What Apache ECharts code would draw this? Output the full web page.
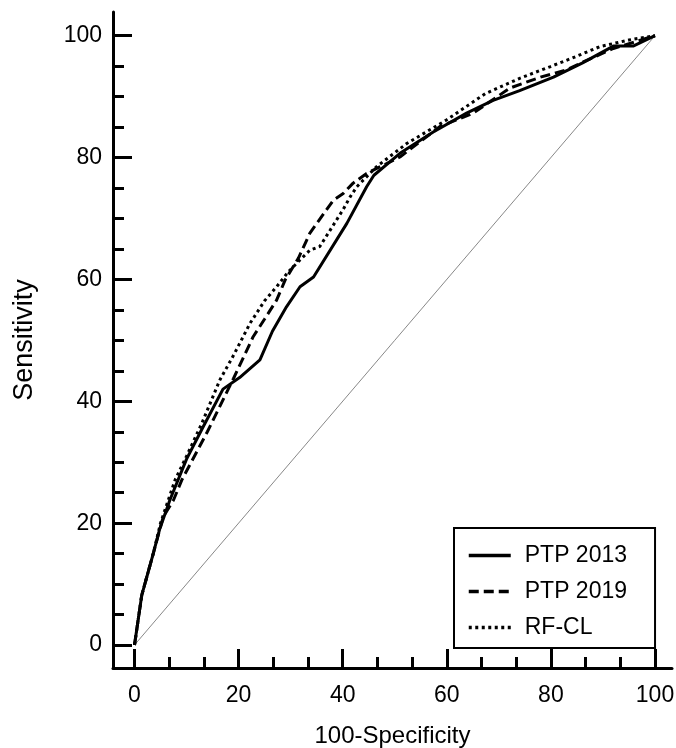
<!DOCTYPE html>
<html>
<head>
<meta charset="utf-8">
<script src="https://cdn.jsdelivr.net/npm/echarts@6/dist/echarts.min.js"></script>
<style>
  html, body { margin: 0; padding: 0; background: #fff; }
  #chart { width: 676px; height: 748px; }
</style>
</head>
<body>
<div id="chart"></div>
<script>
// ---- data ----
const seriesNames = ['PTP 2013', 'PTP 2019', 'RF-CL'];

const ptp2013X = [0, 1.4, 3.6, 4.8, 6.8, 10, 13, 17, 20.2, 24.1, 26.5, 29.2, 31.8, 34.4, 40.8, 44.6, 46, 51, 57.4, 63.8, 68.9, 74, 80.5, 86, 92, 95.8, 100];
const ptp2013Y = [0, 8.2, 15, 18.9, 23.8, 30.5, 35.5, 42, 43.9, 46.8, 51.5, 55.5, 58.8, 60.4, 69.2, 75.2, 77.1, 80.7, 84.2, 87.3, 89.4, 91, 93.2, 95.5, 98.3, 98.3, 100];

const ptp2019X = [0, 1.4, 3.6, 5.5, 7.5, 9.1, 14, 19, 22.8, 25, 27.3, 29, 31.5, 33.7, 38.2, 40.1, 42, 44.6, 51, 58.7, 65.1, 72.1, 78, 83, 87, 92, 100];
const ptp2019Y = [0, 8.2, 15, 21, 23.8, 27.1, 35, 43.7, 50.6, 53.5, 56.6, 60, 63.5, 67.6, 73, 74.1, 75.8, 77.4, 80.1, 85.1, 87.3, 91.4, 93.2, 94.4, 96, 97.9, 100];

const rfclX = [0, 1.4, 3.6, 5, 7.8, 10, 13, 16.4, 19, 22.2, 25, 27.3, 29.5, 31.8, 33.7, 35.6, 37.6, 40.1, 41.4, 42.7, 46.5, 52.3, 60, 67.4, 74, 79.8, 84, 89.4, 95, 100];
const rfclY = [0, 8.2, 15, 20, 27.1, 31, 36.5, 43.5, 47.5, 52.8, 56.5, 58.8, 61.2, 63.2, 64.8, 65.4, 68.1, 71.5, 73.5, 75.2, 78.5, 82.3, 86.2, 90.5, 93, 94.9, 96.3, 98.2, 99.3, 100];

const diagX = [0, 100];
const diagY = [0, 100];

const majorTicks = [0, 20, 40, 60, 80, 100];
const xMinorTicks = [6.667, 13.333, 26.667, 33.333, 46.667, 53.333, 66.667, 73.333, 86.667, 93.333];
const yMinorTicks = [5, 10, 15, 25, 30, 35, 45, 50, 55, 65, 70, 75, 85, 90, 95];

const xTitle = '100-Specificity';
const yTitle = 'Sensitivity';

// ---- helpers ----
function pairs(xs, ys) { return xs.map((x, i) => [x, ys[i]]); }

const FONT = "'Liberation Sans', Arial, sans-serif";
const X_MIN = -4.13, X_MAX = 103.27, Y_MIN = -3.77, Y_MAX = 103.89;

const chart = echarts.init(document.getElementById('chart'), null, { renderer: 'canvas' });

const option = {
  backgroundColor: '#fff',
  animation: false,
  textStyle: { fontFamily: FONT, color: '#000' },
  grid: { left: 113, right: 4, top: 12, bottom: 80, containLabel: false, outerBoundsMode: 'none' },
  legend: {
    data: seriesNames,
    orient: 'vertical',
    left: 454,
    top: 528,
    borderColor: '#000',
    borderWidth: 2,
    padding: [16, 28, 9, 13],
    itemGap: 13,
    itemWidth: 42,
    itemHeight: 14,
    backgroundColor: '#fff',
    itemStyle: { opacity: 0, borderWidth: 0 },
    lineStyle: { width: 3.5 },
    textStyle: { fontFamily: FONT, fontSize: 23, color: '#000', lineHeight: 22, padding: [0, 0, 0, 9] }
  },
  xAxis: [
    {
      type: 'value', min: X_MIN, max: X_MAX, position: 'bottom',
      name: xTitle, nameLocation: 'middle', nameGap: 56,
      nameTextStyle: { fontFamily: FONT, fontSize: 24, color: '#000' },
      axisLine: { show: true, onZero: false, lineStyle: { color: '#000', width: 3 } },
      axisTick: { show: true, inside: true, length: 19, customValues: majorTicks, lineStyle: { color: '#000', width: 3 } },
      axisLabel: { show: true, customValues: majorTicks, margin: 16, fontFamily: FONT, fontSize: 23, color: '#000' },
      splitLine: { show: false }
    },
    {
      type: 'value', min: X_MIN, max: X_MAX, position: 'bottom',
      axisLine: { show: false, onZero: false },
      axisTick: { show: true, inside: true, length: 11, customValues: xMinorTicks, lineStyle: { color: '#000', width: 3 } },
      axisLabel: { show: false },
      splitLine: { show: false }
    }
  ],
  yAxis: [
    {
      type: 'value', min: Y_MIN, max: Y_MAX, position: 'left',
      name: yTitle, nameLocation: 'middle', nameGap: 75, nameRotate: 90,
      nameTextStyle: { fontFamily: FONT, fontSize: 27, color: '#000' },
      axisLine: { show: true, onZero: false, lineStyle: { color: '#000', width: 3 } },
      axisTick: { show: true, inside: true, length: 19, customValues: majorTicks, lineStyle: { color: '#000', width: 3 } },
      axisLabel: { show: true, customValues: majorTicks, margin: 11, fontFamily: FONT, fontSize: 23, color: '#000' },
      splitLine: { show: false }
    },
    {
      type: 'value', min: Y_MIN, max: Y_MAX, position: 'left',
      axisLine: { show: false, onZero: false },
      axisTick: { show: true, inside: true, length: 11, customValues: yMinorTicks, lineStyle: { color: '#000', width: 3 } },
      axisLabel: { show: false },
      splitLine: { show: false }
    }
  ],
  series: [
    {
      name: 'diag', type: 'line', data: pairs(diagX, diagY), symbol: 'none', silent: true,
      lineStyle: { color: '#888', width: 1 }, z: 1
    },
    {
      name: seriesNames[0], type: 'line', data: pairs(ptp2013X, ptp2013Y), symbol: 'none',
      color: '#000', lineStyle: { color: '#000', width: 3, type: 'solid' }, z: 3
    },
    {
      name: seriesNames[1], type: 'line', data: pairs(ptp2019X, ptp2019Y), symbol: 'none',
      color: '#000', lineStyle: { color: '#000', width: 3, type: [10, 5] }, z: 3
    },
    {
      name: seriesNames[2], type: 'line', data: pairs(rfclX, rfclY), symbol: 'none',
      color: '#000', lineStyle: { color: '#000', width: 3, type: [3, 3.5] }, z: 3
    }
  ]
};

chart.setOption(option);
</script>
</body>
</html>
